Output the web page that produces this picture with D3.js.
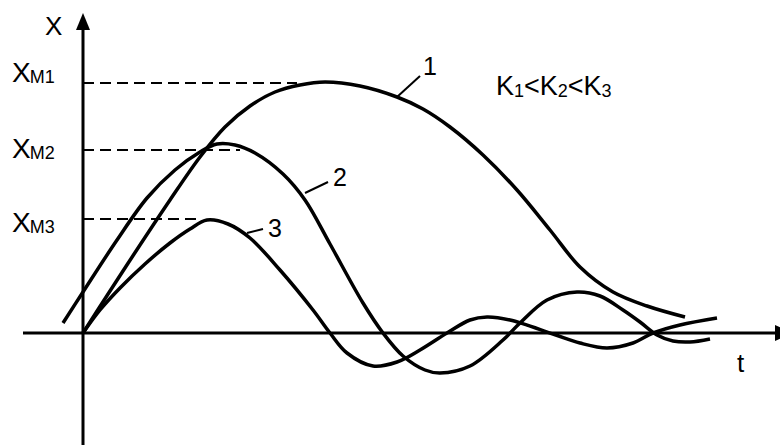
<!DOCTYPE html>
<html>
<head>
<meta charset="utf-8">
<script src="https://cdn.jsdelivr.net/npm/d3@7/dist/d3.min.js"></script>
<style>
  body { margin: 0; background: #fff; }
  svg text { font-family: "Liberation Sans", Arial, sans-serif; fill: #000; }
</style>
</head>
<body>
<svg id="chart"></svg>
<script>
// curves: [t, X] in arbitrary units
var curve1 = [[0,0],[2.7,16.8],[5.7,35.2],[8.7,53.2],[11.7,70.4],[14.2,82.4],[16.7,90.8],
  [19.2,96.4],[21.7,99.2],[24.2,100.4],[27.7,98.8],[31.4,94.4],[34,89.6],[36.7,82.4],[40,71.2],
  [43.4,57.2],[46.7,41.2],[49.7,26.4],[53,16.4],[56.4,10.8],[60.2,6.4]];
var curve2 = [[-2,4],[0,16.4],[3.4,37.2],[6.4,54],[9.2,65.2],[11.7,72.4],[13.4,75.6],[15.2,75.2],
  [17.2,72],[20,63.6],[22.2,53.2],[24.7,35.6],[28,12],[30,0],[32,-9.2],[34.2,-14.8],[35.7,-16],
  [38.7,-13.2],[42,-2.8],[43.7,4],[46.4,13.2],[49.4,16.4],[51.7,14.8],[54,9.2],[55.7,4.4],
  [57.4,-0.8],[59,-3.2],[60.7,-3.6],[62.7,-2.4]];
var curve3 = [[0,0],[1.7,9.2],[3.7,18],[6.2,27.6],[8.7,36],[10.7,41.6],[12.4,45.2],[14.5,43.6],
  [16.7,38],[19.7,25.2],[23,9.2],[24.7,0],[26.4,-8],[29,-13.2],[31.4,-11.6],[33.7,-6.8],[36.4,0],
  [38.7,5.2],[40.4,6.4],[42.7,5.2],[47,-0.4],[49.7,-4],[52.4,-6],[55,-4],[57,0],[59.7,3.2],[63.4,6]];

var levels = [100, 73.2, 45.6];          // X_M1, X_M2, X_M3
var levelNames = ["M1", "M2", "M3"];
var levelEnds = [21.4, 15.7, 11.5];      // t where each dashed line stops
var curveNames = ["1", "2", "3"];

var width = 780, height = 445;

var svg = d3.select("#chart")
    .attr("width", width)
    .attr("height", height);

var xScale = d3.scaleLinear().domain([0, 70]).range([83, 783]);
var yScale = d3.scaleLinear().domain([0, 100]).range([333, 83]);

var line = d3.line()
    .x(function(d) { return xScale(d[0]); })
    .y(function(d) { return yScale(d[1]); })
    .curve(d3.curveCatmullRom.alpha(0.5));

// axes
var x0 = xScale(0), y0 = yScale(0);
svg.append("line")
    .attr("x1", x0).attr("y1", height)
    .attr("x2", x0).attr("y2", 28)
    .attr("stroke", "#000").attr("stroke-width", 3);
svg.append("path")
    .attr("d", "M" + x0 + ",13 L" + (x0 - 7) + ",30 L" + (x0 + 7) + ",30 Z")
    .attr("fill", "#000");
svg.append("line")
    .attr("x1", 23).attr("y1", y0)
    .attr("x2", 776).attr("y2", y0)
    .attr("stroke", "#000").attr("stroke-width", 3);
svg.append("path")
    .attr("d", "M793," + y0 + " L775," + (y0 - 8) + " L775," + (y0 + 8) + " Z")
    .attr("fill", "#000");

svg.append("text").attr("x", 45).attr("y", 35).style("font-size", "26px").text("X");
svg.append("text").attr("x", 737).attr("y", 372).style("font-size", "26px").text("t");

// dashed levels
levels.forEach(function(v, i) {
  svg.append("line")
      .attr("x1", x0).attr("y1", yScale(v))
      .attr("x2", xScale(levelEnds[i])).attr("y2", yScale(v))
      .attr("stroke", "#000").attr("stroke-width", 2)
      .attr("stroke-dasharray", "11,6");
});

var labelBase = [82, 158, 232];
levelNames.forEach(function(n, i) {
  var t = svg.append("text").attr("x", 12).attr("y", labelBase[i]).style("font-size", "28px");
  t.append("tspan").text("X");
  t.append("tspan").attr("dx", -1).attr("dy", 1).style("font-size", "18px").text(n);
});

// curves
[curve1, curve2, curve3].forEach(function(c) {
  svg.append("path")
      .datum(c)
      .attr("d", line)
      .attr("fill", "none")
      .attr("stroke", "#000")
      .attr("stroke-width", 3.5)
      .attr("stroke-linejoin", "round");
});

// curve labels with leaders
var leaders = [[397, 97, 420, 76], [305, 193, 328, 182], [247, 233, 263, 229]];
var numPos = [[425, 75], [335, 186], [270, 237]];
curveNames.forEach(function(n, i) {
  var l = leaders[i];
  svg.append("line")
      .attr("x1", l[0]).attr("y1", l[1]).attr("x2", l[2]).attr("y2", l[3])
      .attr("stroke", "#000").attr("stroke-width", 2);
  svg.append("text").attr("x", numPos[i][0] - 2).attr("y", numPos[i][1])
      .style("font-size", "25px").text(n);
});

// K1<K2<K3
var k = svg.append("text").attr("x", 496).attr("y", 95).style("font-size", "27px");
["1", "2", "3"].forEach(function(s, i) {
  k.append("tspan").attr("dy", i == 0 ? 0 : -2).text((i == 0 ? "" : "<") + "K");
  k.append("tspan").attr("dy", 2).style("font-size", "18px").text(s);
});
</script>
</body>
</html>
